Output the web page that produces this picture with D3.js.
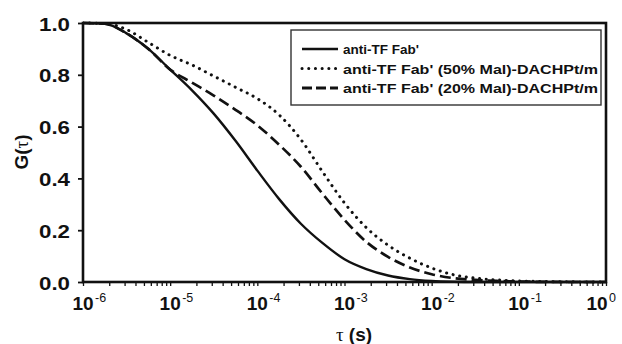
<!DOCTYPE html>
<html><head><meta charset="utf-8">
<script src="https://cdn.jsdelivr.net/npm/d3@7"></script>
<style>
html,body{margin:0;padding:0;background:#fff;}
text{font-family:"Liberation Sans",Arial,sans-serif;font-weight:bold;fill:#111;}
</style></head>
<body><svg id="c" width="622" height="344"></svg>
<script>
// ---- data ----
const seriesNames = ["anti-TF Fab'", "anti-TF Fab' (50% Mal)-DACHPt/m", "anti-TF Fab' (20% Mal)-DACHPt/m"];
const tau     = [1e-6, 1.78e-6, 3.16e-6, 5.62e-6, 1e-5, 1.78e-5, 3.16e-5, 5.62e-5, 1e-4, 1.78e-4, 3.16e-4, 5.62e-4,
                 1e-3, 1.78e-3, 3.16e-3, 5.62e-3, 1e-2, 1.78e-2, 3.16e-2, 5.62e-2, 1e-1, 3.16e-1, 1];
const solidG  = [1.0, 0.997, 0.96, 0.9, 0.82, 0.74, 0.65, 0.545, 0.43, 0.32, 0.225, 0.15,
                 0.088, 0.05, 0.025, 0.011, 0.004, 0.001, 0, 0, 0, 0, 0];
const dottedG = [1.0, 0.998, 0.975, 0.925, 0.875, 0.838, 0.795, 0.752, 0.708, 0.645, 0.55, 0.425,
                 0.305, 0.21, 0.142, 0.092, 0.054, 0.028, 0.015, 0.008, 0.004, 0.001, 0];
const dashedG = [1.0, 0.997, 0.96, 0.9, 0.82, 0.77, 0.72, 0.665, 0.605, 0.53, 0.445, 0.34,
                 0.24, 0.155, 0.097, 0.056, 0.03, 0.015, 0.008, 0.004, 0.002, 0, 0];
const xTickExps = ["-6", "-5", "-4", "-3", "-2", "-1", "0"];
const yTicks    = [0, 0.2, 0.4, 0.6, 0.8, 1.0];

// ---- layout ----
const svg = d3.select("#c");
const L = 83, R = 606, T = 23, B = 282;
const x = d3.scaleLog().domain([1e-6, 1]).range([L, R]);
const y = d3.scaleLinear().domain([0, 1]).range([B, T]);

const line = d3.line().x(d => x(d[0])).y(d => y(d[1])).curve(d3.curveMonotoneX);
const zip = (a, b) => a.map((t, i) => [t, b[i]]);

svg.append("clipPath").attr("id", "pc").append("rect")
  .attr("x", L).attr("y", T - 2).attr("width", R - L).attr("height", B - T + 4);

const g = svg.append("g").attr("clip-path", "url(#pc)");
g.append("path").datum(zip(tau, solidG)).attr("d", line)
  .attr("fill", "none").attr("stroke", "#111").attr("stroke-width", 2.4);
g.append("path").datum(zip(tau, dashedG)).attr("d", line)
  .attr("fill", "none").attr("stroke", "#111").attr("stroke-width", 2.7)
  .attr("stroke-dasharray", "11,5");
g.append("path").datum(zip(tau, dottedG)).attr("d", line)
  .attr("fill", "none").attr("stroke", "#111").attr("stroke-width", 3)
  .attr("stroke-linecap", "round").attr("stroke-dasharray", "0.1,6.6");

// ---- axes ----
const xAxis = d3.axisBottom(x).tickSize(4).tickFormat("");
svg.append("g").attr("transform", `translate(0,${B})`).call(xAxis)
  .call(s => s.select(".domain").remove())
  .call(s => s.selectAll("line").attr("stroke", "#111").attr("stroke-width", 1.3));
const yAxis = d3.axisLeft(y).tickValues(yTicks).tickSize(5).tickFormat("");
svg.append("g").attr("transform", `translate(${L},0)`).call(yAxis)
  .call(s => s.select(".domain").remove())
  .call(s => s.selectAll("line").attr("stroke", "#111").attr("stroke-width", 1.8));

// frame
svg.append("rect").attr("x", L).attr("y", T).attr("width", R - L).attr("height", B - T)
  .attr("fill", "none").attr("stroke", "#111").attr("stroke-width", 2.6);

// y tick labels
svg.append("g").selectAll("text").data(yTicks).join("text")
  .attr("x", 70).attr("y", d => y(d) + 7.5).attr("text-anchor", "end")
  .attr("font-size", 19).attr("textLength", 31).attr("lengthAdjust", "spacingAndGlyphs")
  .text(d => d.toFixed(1));

// x tick labels
const xl = svg.append("g").selectAll("g").data(xTickExps).join("g")
  .attr("transform", (d, i) => `translate(${x(Math.pow(10, +d)) - (i === xTickExps.length - 1 ? 9 : 0)},0)`);
xl.append("text").attr("x", 0).attr("y", 310).attr("text-anchor", "middle")
  .attr("font-size", 19).text("10");
xl.append("text").attr("x", 12).attr("y", 302).attr("font-size", 12.5)
  .style("font-weight", "normal").text(d => d);

// axis titles
const yt = svg.append("text").attr("transform", "translate(28,152) rotate(-90)").attr("text-anchor", "middle")
  .attr("font-size", 19);
yt.append("tspan").text("G(");
yt.append("tspan").style("font-weight", "normal").style("font-family", "'Liberation Serif',serif").text("τ");
yt.append("tspan").text(")");
const xt = svg.append("text").attr("x", 354).attr("y", 341).attr("text-anchor", "middle")
  .attr("font-size", 19);
xt.append("tspan").style("font-weight", "normal").style("font-family", "'Liberation Serif',serif").text("τ");
xt.append("tspan").text(" (s)");

// legend
const lg = svg.append("g");
lg.append("rect").attr("x", 291).attr("y", 30).attr("width", 310).attr("height", 75)
  .attr("fill", "#fff").attr("stroke", "#333").attr("stroke-width", 1.4);
const legendStyles = [
  {dash: null, w: 2.6, cap: "butt", len: null},
  {dash: "0.1,6.6", w: 3, cap: "round", len: 255},
  {dash: "10,4", w: 2.8, cap: "butt", len: 255}
];
seriesNames.forEach((name, i) => {
  const ry = 49 + i * 19.5;
  const st = legendStyles[i];
  const ln = lg.append("line").attr("x1", 302).attr("x2", 338).attr("y1", ry).attr("y2", ry)
    .attr("stroke", "#111").attr("stroke-width", st.w).attr("stroke-linecap", st.cap);
  if (st.dash) ln.attr("stroke-dasharray", st.dash);
  const t = lg.append("text").attr("x", 343).attr("y", ry + 5).attr("font-size", 13.5).text(name);
  if (st.len) t.attr("textLength", st.len).attr("lengthAdjust", "spacingAndGlyphs");
});
</script></body></html>
